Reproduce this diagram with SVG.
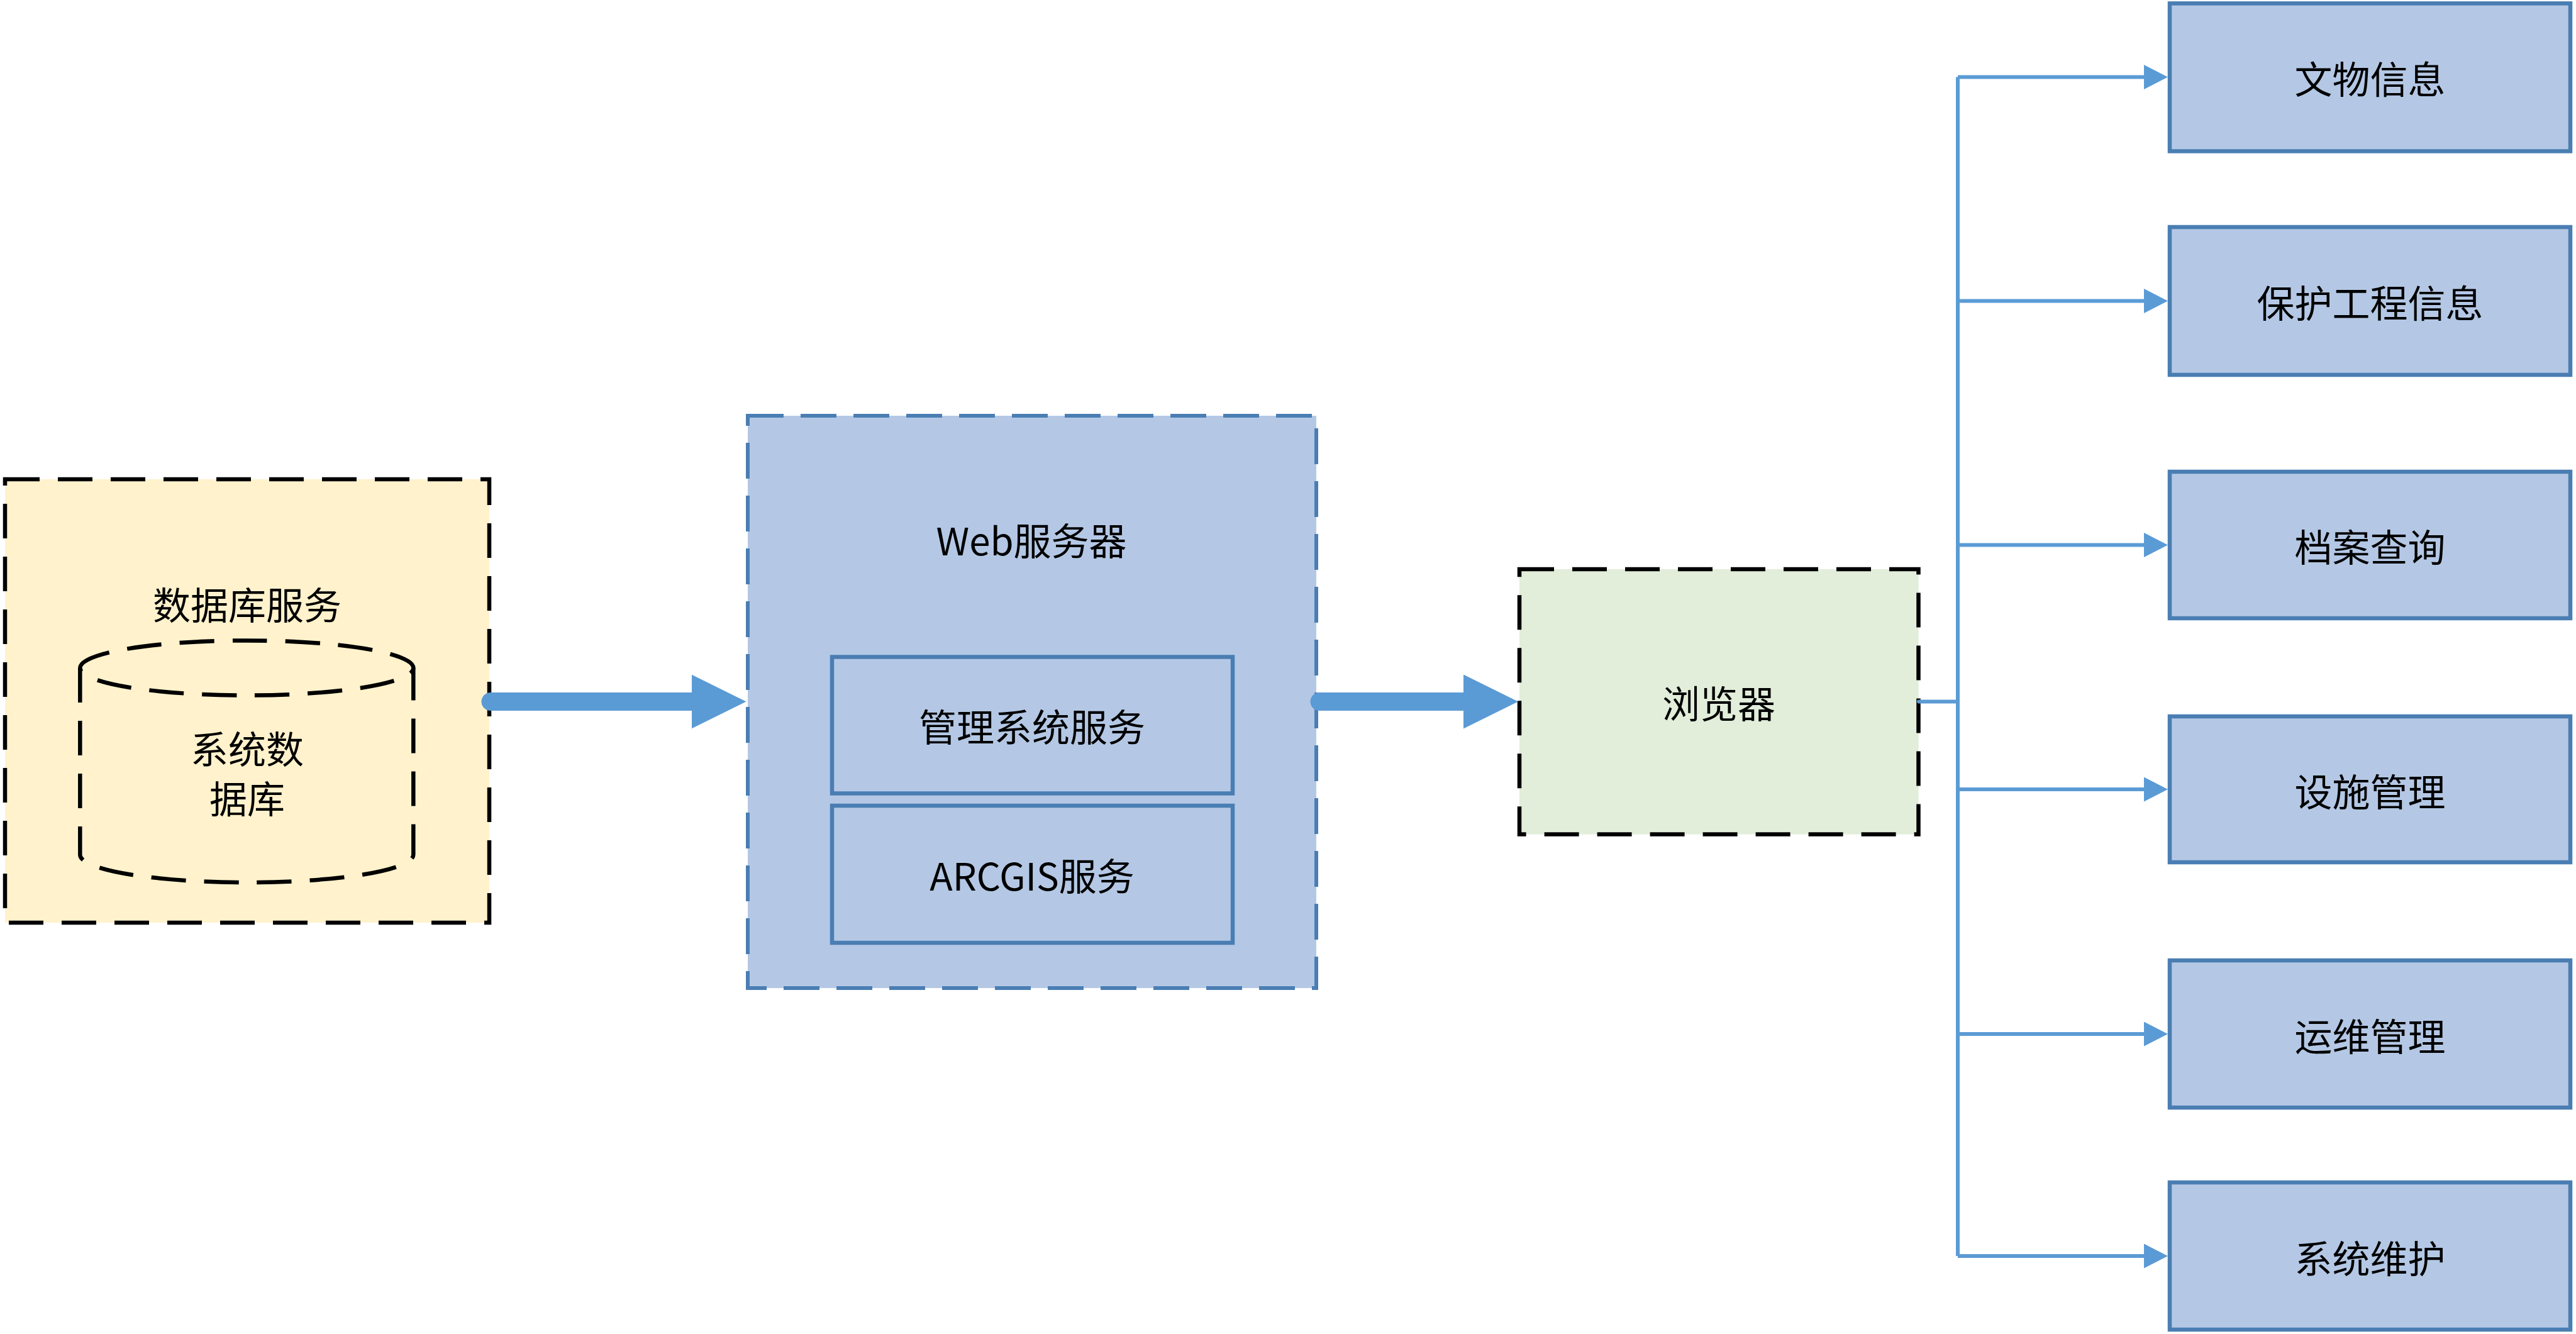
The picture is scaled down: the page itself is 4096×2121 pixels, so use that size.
<svg xmlns="http://www.w3.org/2000/svg" width="4096" height="2121" viewBox="0 0 4096 2121">
<defs>
<style>
.t{font-family:"Noto Sans CJK SC","Noto Sans",sans-serif;font-size:60px;fill:#000;text-anchor:middle;dominant-baseline:central}
.bd{stroke:#000;stroke-width:6.5;stroke-dasharray:55 29;fill:none}
.bluebox{fill:#B4C8E5;stroke:#4A7EB3;stroke-width:6.5}
.conn{stroke:#5B9BD5;stroke-width:6;fill:none}
.big{stroke:#5B9BD5;stroke-width:29;stroke-linecap:round;fill:none}
</style>
<marker id="bigHead" markerUnits="userSpaceOnUse" markerWidth="87" markerHeight="86" refX="0" refY="43" orient="auto">
<path d="M0,0 L87,43 L0,86 Z" fill="#5B9BD5"/>
</marker>
<marker id="smallHead" markerUnits="userSpaceOnUse" markerWidth="38" markerHeight="39" refX="0" refY="19.5" orient="auto">
<path d="M0,0 L38,19.5 L0,39 Z" fill="#5B9BD5"/>
</marker>
</defs>
<rect width="4096" height="2121" fill="#fff"/>

<g id="db-service">
<rect x="8" y="762" width="770" height="705" fill="#FFF2CC"/>
<rect x="8" y="762" width="770" height="705" class="bd"/>
<text class="t" x="393" y="958">数据库服务</text>
</g>

<g id="system-db">
<path class="bd" d="M127.3,1062 A265,43.6 0 0,1 657.3,1062 A265,43.6 0 0,1 127.3,1062 Z"/>
<path class="bd" d="M127.3,1062 V1359 A265,44 0 0,0 657.3,1359 V1062"/>
<text class="t" x="393" y="1187">系统数</text>
<text class="t" x="393" y="1266">据库</text>
</g>

<g id="web-server">
<rect x="1189" y="661" width="904" height="910" fill="#B4C8E5" stroke="#4A7EB3" stroke-width="6" stroke-dasharray="57 27"/>
<text class="t" x="1640" y="856">Web服务器</text>
</g>

<g id="mgmt-service">
<rect class="bluebox" x="1323" y="1044.5" width="637" height="217" stroke-width="6"/>
<text class="t" x="1641" y="1152">管理系统服务</text>
</g>

<g id="arcgis-service">
<rect class="bluebox" x="1323" y="1281" width="637" height="218" stroke-width="6"/>
<text class="t" x="1641" y="1389">ARCGIS服务</text>
</g>

<g id="browser">
<rect x="2416" y="905" width="634.5" height="421.6" fill="#E2EDDA"/>
<rect x="2416" y="905" width="634.5" height="421.6" class="bd"/>
<text class="t" x="2733" y="1115">浏览器</text>
</g>

<g id="m1"><rect class="bluebox" x="3450" y="5.4" width="637" height="235"/><text class="t" x="3768.5" y="122.6">文物信息</text></g>
<g id="m2"><rect class="bluebox" x="3450" y="361" width="637" height="235"/><text class="t" x="3768.5" y="478.5">保护工程信息</text></g>
<g id="m3"><rect class="bluebox" x="3450" y="750" width="637" height="233"/><text class="t" x="3768.5" y="866.5">档案查询</text></g>
<g id="m4"><rect class="bluebox" x="3450" y="1139" width="637" height="232"/><text class="t" x="3768.5" y="1255">设施管理</text></g>
<g id="m5"><rect class="bluebox" x="3450" y="1527" width="637" height="234"/><text class="t" x="3768.5" y="1644">运维管理</text></g>
<g id="m6"><rect class="bluebox" x="3450" y="1880" width="637" height="234"/><text class="t" x="3768.5" y="1997">系统维护</text></g>

<g id="connectors">
<line class="big" x1="780" y1="1115.5" x2="1099.5" y2="1115.5" marker-end="url(#bigHead)"/>
<line class="big" x1="2098" y1="1115.5" x2="2327" y2="1115.5" marker-end="url(#bigHead)"/>
<path class="conn" d="M3051,1115.5 H3113" stroke-linecap="round"/>
<path class="conn" d="M3113,122.6 V1997"/>
<line class="conn" x1="3113" y1="122.6" x2="3409" y2="122.6" marker-end="url(#smallHead)"/>
<line class="conn" x1="3113" y1="478.5" x2="3409" y2="478.5" marker-end="url(#smallHead)"/>
<line class="conn" x1="3113" y1="866.5" x2="3409" y2="866.5" marker-end="url(#smallHead)"/>
<line class="conn" x1="3113" y1="1255" x2="3409" y2="1255" marker-end="url(#smallHead)"/>
<line class="conn" x1="3113" y1="1644" x2="3409" y2="1644" marker-end="url(#smallHead)"/>
<line class="conn" x1="3113" y1="1997" x2="3409" y2="1997" marker-end="url(#smallHead)"/>
</g>
</svg>
